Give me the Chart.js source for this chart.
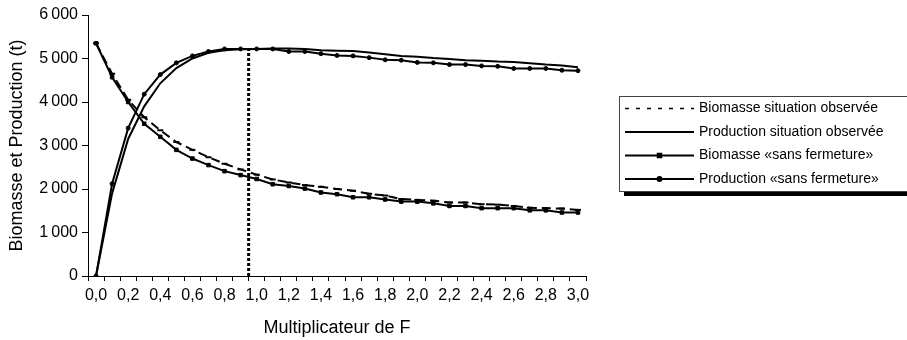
<!DOCTYPE html>
<html>
<head>
<meta charset="utf-8">
<script src="https://cdn.jsdelivr.net/npm/chart.js@4.4.1/dist/chart.umd.min.js"></script>
<style>
    html, body { margin: 0; padding: 0; background: #ffffff; }
    #wrap { width: 907px; height: 340px; }
</style>
</head>
<body>
<div id="wrap"><canvas id="chart"></canvas></div>
<script>
// ========== DONNÉES ==========
const xLabels = ['0,0', '0,1', '0,2', '0,3', '0,4', '0,5', '0,6', '0,7', '0,8', '0,9', '1,0',
    '1,1', '1,2', '1,3', '1,4', '1,5', '1,6', '1,7', '1,8', '1,9', '2,0',
    '2,1', '2,2', '2,3', '2,4', '2,5', '2,6', '2,7', '2,8', '2,9', '3,0'];
const yTicks = [0, 1000, 2000, 3000, 4000, 5000, 6000];
const yTickLabels = ['0', '1\u2009000', '2\u2009000', '3\u2009000', '4\u2009000', '5\u2009000', '6\u2009000'];

const biomasseObservee = [5350, 4650, 4050, 3650, 3350, 3080, 2900, 2730, 2580, 2450, 2330,
    2220, 2150, 2090, 2050, 2000, 1960, 1890, 1850, 1770, 1750,
    1730, 1690, 1690, 1650, 1640, 1610, 1570, 1560, 1550, 1520];
const productionObservee = [0, 1900, 3150, 3900, 4430, 4780, 5000, 5130, 5190, 5210, 5220,
    5230, 5230, 5220, 5190, 5180, 5170, 5140, 5100, 5060, 5040,
    5010, 4990, 4960, 4950, 4930, 4920, 4890, 4860, 4840, 4800];
const biomasseSansFermeture = [5350, 4570, 4000, 3500, 3200, 2900, 2700, 2550, 2410, 2320, 2230,
    2110, 2070, 2010, 1920, 1880, 1810, 1810, 1760, 1710, 1710,
    1670, 1610, 1610, 1560, 1560, 1560, 1510, 1510, 1460, 1460];
const productionSansFermeture = [0, 2120, 3400, 4180, 4630, 4900, 5060, 5160, 5220, 5220, 5220,
    5220, 5160, 5160, 5110, 5070, 5060, 5020, 4970, 4960, 4910,
    4900, 4860, 4860, 4830, 4820, 4770, 4770, 4770, 4730, 4720];

// ligne verticale pointillée (F actuel)
const refLineX = [0.95, 0.95];
const refLineY = [0, 5220];

const seriesNames = [
    'Biomasse situation observée',
    'Production situation observée',
    'Biomasse «sans fermeture»',
    'Production «sans fermeture»'
];

Chart.defaults.font.family = "'Liberation Sans', Arial, sans-serif";
Chart.defaults.color = '#000';

// légende encadrée avec ombre, dessinée à droite
const boxedLegend = {
    id: 'boxedLegend',
    afterDraw(chart, args, opts) {
        const ctx = chart.ctx;
        ctx.save();
        ctx.fillStyle = '#000';
        ctx.fillRect(opts.left + 5, opts.top + opts.height, chart.width - opts.left - 5, 5);
        ctx.strokeStyle = '#444';
        ctx.lineWidth = 1;
        ctx.strokeRect(opts.left + 0.5, opts.top + 0.5, opts.width, opts.height);

        ctx.font = "14px 'Liberation Sans', Arial, sans-serif";
        ctx.textBaseline = 'middle';
        ctx.textAlign = 'left';
        const x0 = opts.left + 6, x1 = x0 + opts.sample;
        chart.data.datasets.filter(ds => !ds.isReference).forEach((ds, i) => {
            const y = opts.firstRow + i * opts.rowGap;
            ctx.strokeStyle = ds.borderColor;
            ctx.lineWidth = ds.legendWidth || ds.borderWidth;
            ctx.setLineDash(ds.legendDash || []);
            ctx.beginPath();
            ctx.moveTo(x0, y);
            ctx.lineTo(x1, y);
            ctx.stroke();
            ctx.setLineDash([]);
            if (ds.legendMarker) {
                ctx.fillStyle = '#000';
                Chart.helpers.drawPoint(ctx, { pointStyle: ds.pointStyle, radius: ds.pointRadius, borderWidth: 1 }, (x0 + x1) / 2, y);
            }
            ctx.fillStyle = '#000';
            ctx.fillText(ds.label, x1 + 5, y);
        });
        ctx.restore();
    }
};

new Chart(document.getElementById('chart'), {
    type: 'line',
    data: {
        labels: xLabels,
        datasets: [{
            label: seriesNames[0],
            data: biomasseObservee,
            borderColor: '#000',
            backgroundColor: '#000',
            borderWidth: 2,
            borderDash: [9, 5],
            legendDash: [4, 7],
            legendWidth: 1.5,
            pointStyle: 'line',
            pointRadius: 3,
            pointBorderWidth: 2,
            tension: 0
        }, {
            label: seriesNames[1],
            data: productionObservee,
            borderColor: '#000',
            backgroundColor: '#000',
            borderWidth: 2,
            pointRadius: 0,
            tension: 0
        }, {
            label: seriesNames[2],
            data: biomasseSansFermeture,
            borderColor: '#000',
            backgroundColor: '#000',
            borderWidth: 2,
            pointStyle: 'rect',
            pointRadius: 2.5,
            pointBorderWidth: 1,
            legendMarker: true,
            tension: 0
        }, {
            label: seriesNames[3],
            data: productionSansFermeture,
            borderColor: '#000',
            backgroundColor: '#000',
            borderWidth: 2,
            pointStyle: 'circle',
            pointRadius: 2,
            pointBorderWidth: 1,
            legendMarker: true,
            tension: 0
        }, {
            label: 'F actuel',
            isReference: true,
            xAxisID: 'xRef',
            data: refLineX.map((x, i) => ({ x: x, y: refLineY[i] })),
            borderColor: '#000',
            borderWidth: 3,
            borderDash: [3, 2],
            pointRadius: 0
        }]
    },
    options: {
        responsive: true,
        maintainAspectRatio: false,
        animation: false,
        layout: { padding: { left: 0, right: 321, top: 15, bottom: 0 } },
        plugins: {
            legend: { display: false },
            tooltip: { enabled: false },
            boxedLegend: {
                left: 619, top: 96, width: 300, height: 95,
                sample: 69, firstRow: 108.5, rowGap: 23.5
            }
        },
        scales: {
            x: {
                type: 'category',
                offset: true,
                afterFit: s => { s.height = 64; },
                border: { color: '#000', width: 1 },
                grid: { offset: true, drawOnChartArea: false, drawTicks: true, tickLength: 5, color: '#000' },
                ticks: {
                    autoSkip: false,
                    maxRotation: 0,
                    padding: 5,
                    color: '#000',
                    font: { size: 16 },
                    callback: (v, i) => (i % 2 === 0 ? xLabels[i] : '')
                },
                title: {
                    display: true,
                    text: 'Multiplicateur de F',
                    color: '#000',
                    font: { size: 18 },
                    padding: { top: 0, bottom: 1 }
                }
            },
            xRef: {
                type: 'linear',
                display: false,
                min: -0.05,
                max: 3.05
            },
            y: {
                min: 0,
                max: 6000,
                afterFit: s => { s.width = 88; },
                afterBuildTicks: s => { s.ticks = yTicks.map(v => ({ value: v })); },
                border: { color: '#000', width: 1 },
                grid: { drawOnChartArea: false, drawTicks: true, tickLength: 6, color: '#000' },
                ticks: {
                    padding: 4,
                    color: '#000',
                    font: { size: 16 },
                    callback: (v, i) => yTickLabels[i]
                },
                title: {
                    display: true,
                    text: 'Biomasse et Production (t)',
                    color: '#000',
                    font: { size: 18 },
                    padding: { top: 6, bottom: 0 }
                }
            }
        }
    },
    plugins: [boxedLegend]
});
</script>
</body>
</html>
